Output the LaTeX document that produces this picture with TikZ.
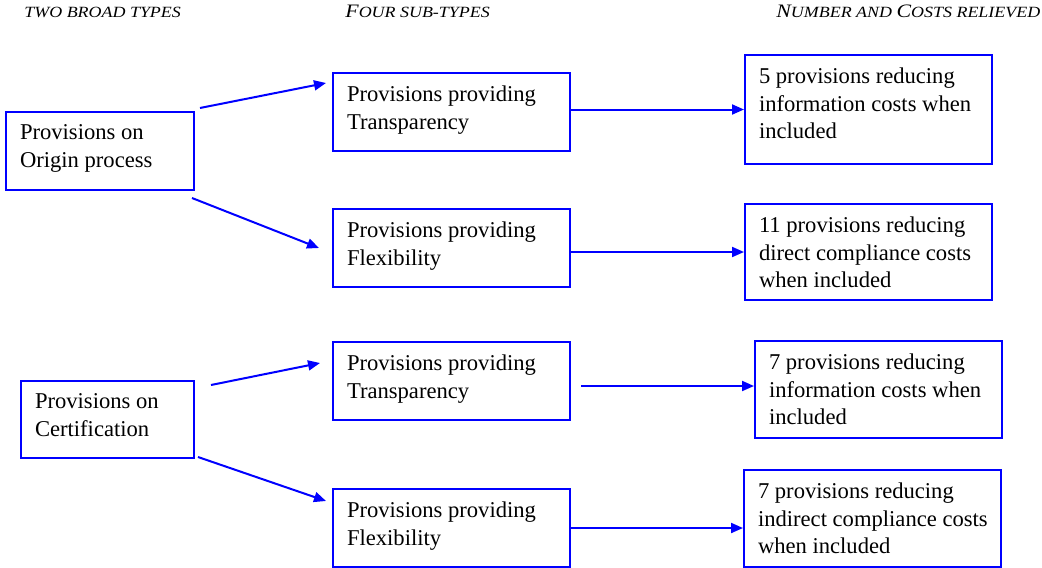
\documentclass[tikz,border=0pt]{standalone}
\usepackage{fontspec}
\setmainfont{Liberation Serif}
\newfontfamily\headfont{Liberation Serif}[FakeStretch=1.15]
\usetikzlibrary{arrows.meta}
\newcommand{\hcap}[1]{{\fontsize{9.5}{10}\selectfont #1}}
\newcommand{\hsml}[1]{{\fontsize{7.8}{10}\selectfont #1}}
\tikzset{
  box/.style 2 args={draw=blue, line width=1pt, anchor=north west,
    inner xsep=0pt, inner ysep=6.5pt,
    execute at begin node={\begin{minipage}[t][#2][t]{#1}\raggedright\leftskip=7pt\relax},
    execute at end node={\end{minipage}}},
  head/.style ={anchor=base west, inner sep=0pt, font=\headfont\itshape},
  link/.style ={draw=blue, line width=1pt, -{Triangle[length=6pt,width=5pt]}},
}
\begin{document}
\begin{tikzpicture}[x=0.5pt, y=-0.5pt, font=\fontsize{11.3}{13.7}\selectfont]
  \useasboundingbox (0,0) rectangle (1042,567);
  % column headings
  \node[head] (hdtypes) at (24,18) {\hsml{TWO BROAD TYPES}};
  \node[head] (hdsub)   at (345,18) {\hcap{F}\hsml{OUR SUB-TYPES}};
  \node[head] (hdcost)  at (776,18) {\hcap{N}\hsml{UMBER AND }\hcap{C}\hsml{OSTS RELIEVED}};
  % broad types
  \node[box={94pt}{26pt}]   (a1) at (5,111)  {Provisions on\\Origin process};
  \node[box={86.5pt}{25.5pt}] (a2) at (20,380) {Provisions on\\Certification};
  % sub-types
  \node[box={118.5pt}{26pt}] (b1) at (332,72)  {Provisions providing\\Transparency};
  \node[box={118.5pt}{26pt}] (b2) at (332,208) {Provisions providing\\Flexibility};
  \node[box={118.5pt}{26pt}] (b3) at (332,341) {Provisions providing\\Transparency};
  \node[box={118.5pt}{26pt}] (b4) at (332,488) {Provisions providing\\Flexibility};
  % costs relieved
  \node[box={123.5pt}{41.5pt}] (c1) at (744,54)  {5 provisions reducing\\information costs when\\included};
  \node[box={123.5pt}{35pt}]   (c2) at (744,203) {11 provisions reducing\\direct compliance costs\\when included};
  \node[box={123.5pt}{35.5pt}] (c3) at (754,340) {7 provisions reducing\\information costs when\\included};
  \node[box={128.5pt}{35.5pt}] (c4) at (743,469) {7 provisions reducing\\indirect compliance costs\\when included};
  % arrows
  \draw[link] ([shift={(5,-3)}]a1.north east) -- ([shift={(-6,11)}]b1.north west);
  \draw[link] ([shift={(-3,7)}]a1.south east) -- ([shift={(-13,0)}]b2.west);
  \draw[link] ([shift={(16,5)}]a2.north east) -- ([shift={(-12,22)}]b3.north west);
  \draw[link] ([shift={(3,-2)}]a2.south east) -- ([shift={(-6,13)}]b4.north west);
  \draw[link] (b1.east |- c1.west) -- (c1.west);
  \draw[link] (b2.east |- c2.west) -- (c2.west);
  \draw[link] ([shift={(10,5)}]b3.east) -- ([shift={(0,5)}]b3.east -| c3.west);
  \draw[link] (b4.east) -- (b4.east -| c4.west);
\end{tikzpicture}
\end{document}
